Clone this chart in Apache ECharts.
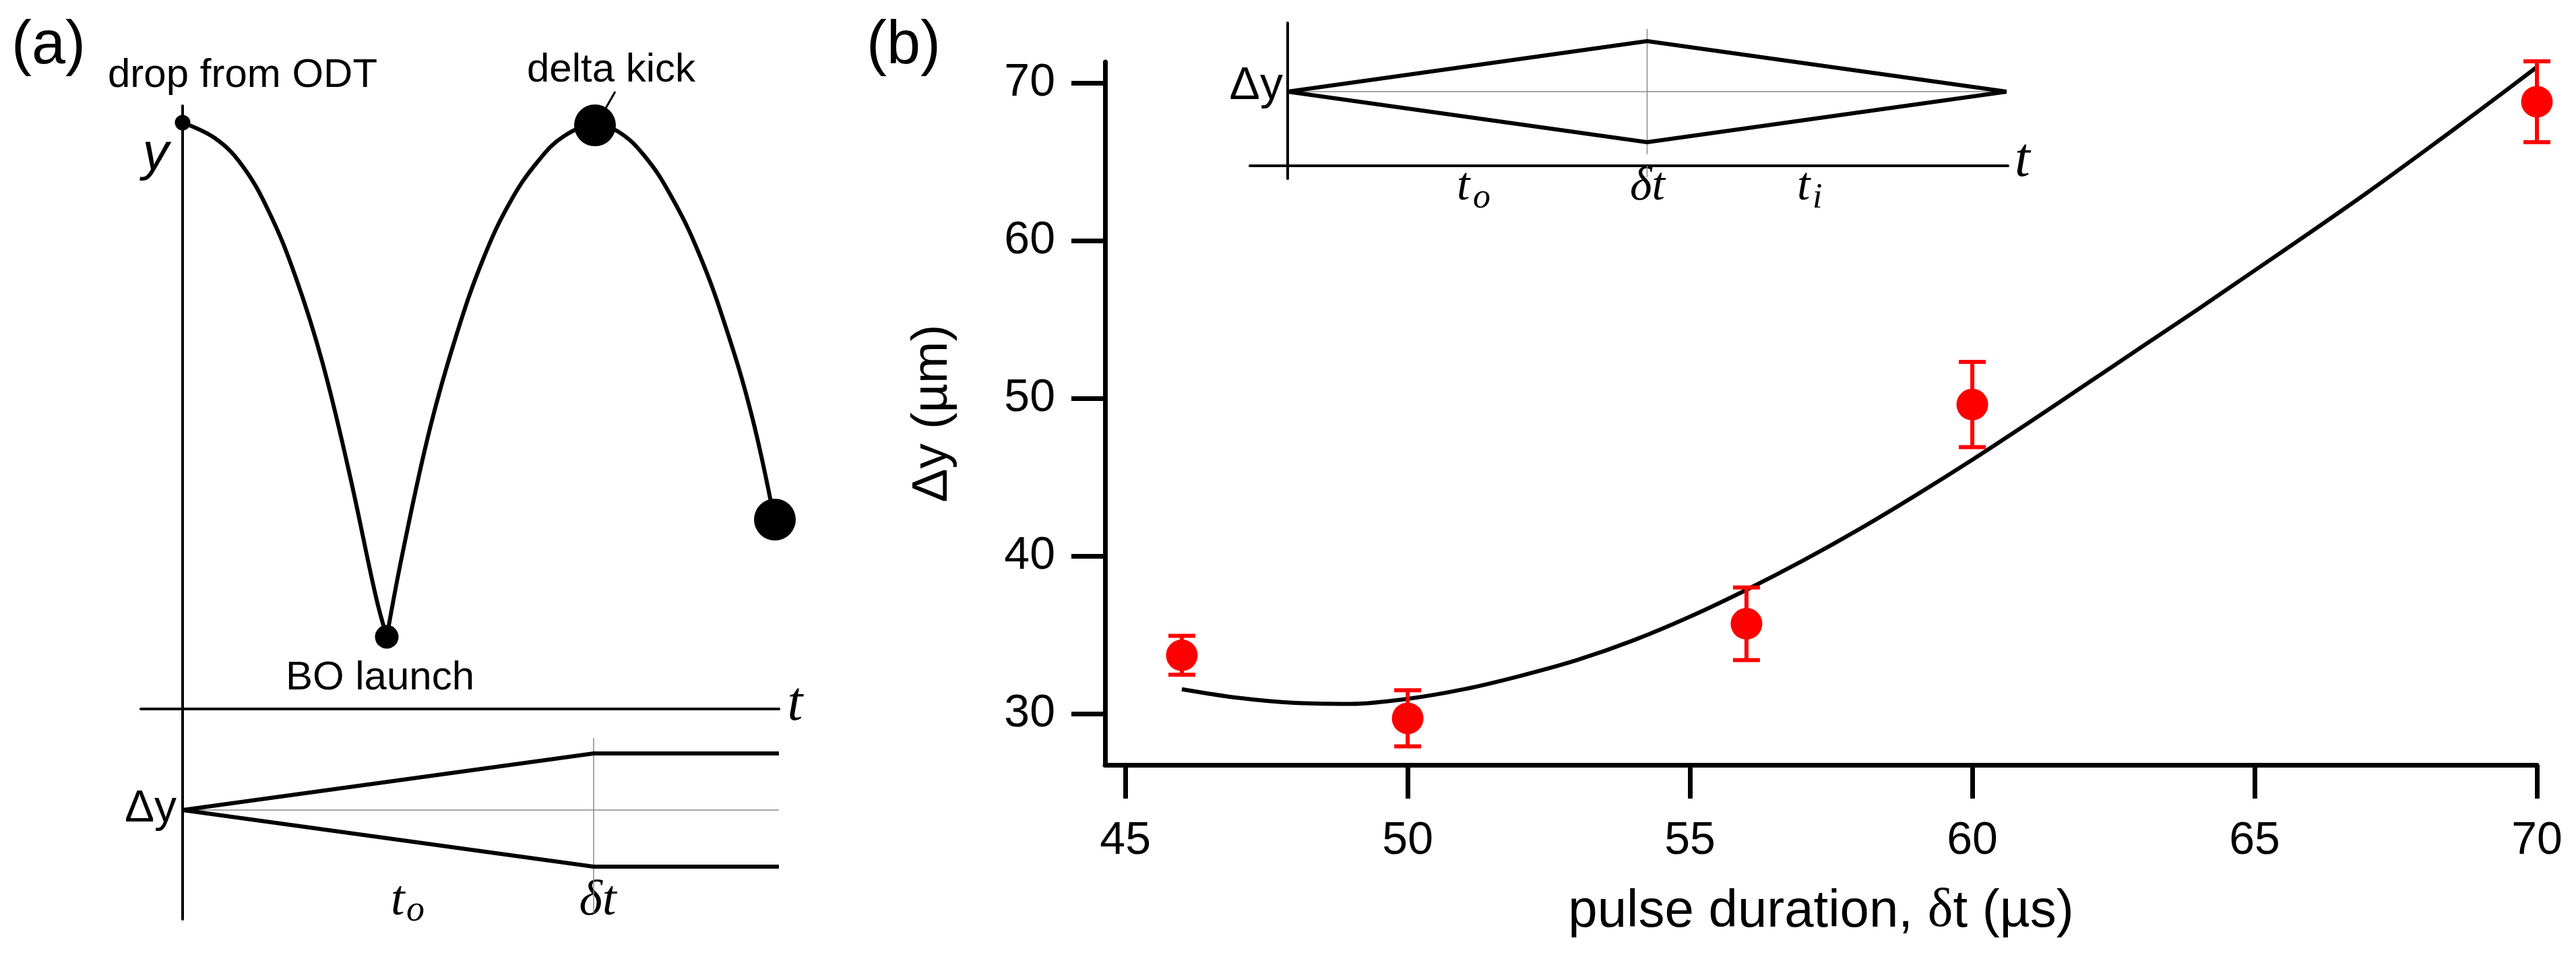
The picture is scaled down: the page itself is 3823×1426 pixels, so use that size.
<!DOCTYPE html>
<html>
<head>
<meta charset="utf-8">
<script src="https://cdn.jsdelivr.net/npm/echarts@6/dist/echarts.min.js"></script>
<style>
html, body { margin: 0; padding: 0; background: #fff; }
#main { width: 3823px; height: 1426px; }
</style>
</head>
<body>
<div id="main"></div>
<script>
// ---- (b) measured widths vs pulse duration ----
var pulse = [46, 50, 56, 60, 70]
var dy = [33.7, 29.7, 35.7, 49.6, 68.8]
var dyErr = [1.23, 1.78, 2.3, 2.7, 2.56]

// ---- (b) model curve ----
var fitT = [46, 47, 48, 49, 50, 51, 52, 53, 54, 55, 56, 57, 58, 59, 60, 61, 62, 63, 64, 65, 66, 67, 68, 69, 70]
var fitY = [31.55, 31.0, 30.68, 30.62, 30.94, 31.55, 32.4, 33.4, 34.65, 36.15, 37.85, 39.7, 41.7, 43.85, 46.1, 48.45, 50.85, 53.25, 55.65, 58.1, 60.55, 63.05, 65.65, 68.3, 71.0]

var xTicks = [45, 50, 55, 60, 65, 70]
var yTicks = [30, 40, 50, 60, 70]

// ---- (a) trajectory sketch (arbitrary units) ----
var dropT = [0, 0.48, 0.88, 1.28, 1.67, 2.07, 2.47, 2.87, 3.03]
var dropY = [8.70, 8.47, 8.07, 7.38, 6.43, 5.16, 3.52, 1.66, 1.07]
var riseT = [3.03, 3.27, 3.67, 4.07, 4.47, 4.86, 5.26, 5.66, 6.12, 6.46, 6.86, 7.25, 7.65, 8.05, 8.45, 8.78]
var riseY = [1.07, 2.34, 4.16, 5.57, 6.70, 7.52, 8.11, 8.50, 8.66, 8.57, 8.20, 7.61, 6.79, 5.70, 4.34, 2.82]
var dotT = [0, 3.03, 6.12, 8.79]
var dotY = [8.70, 1.07, 8.66, 2.81]
var dotSize = [23, 35, 62, 62]
var kickT = [6.26, 6.42]
var kickY = [8.88, 9.16]

// ---- (a) lower width sketch ----
var wA_T = [0, 6.10, 8.85]
var wA_up = [-1.5, -0.66, -0.66]
var wA_lo = [-1.5, -2.34, -2.34]
var wA_mid = -1.5
var wA_cut = [-0.43, -3.03]

// ---- (b) inset sketch ----
var wB_T = [0, 5.34, 10.68]
var wB_up = [1.10, 1.85, 1.10]
var wB_lo = [1.10, 0.35, 1.10]
var wB_mid = 1.10
var wB_cut = [2.03, 0.17]
var wB_tick = [0, -0.17]

function pairs(xs, ys) {
  var out = []
  for (var i = 0; i < xs.length; i++) out.push([xs[i], ys[i]])
  return out
}

var SANS = '"Liberation Sans", Arial, sans-serif'
var SERIF = '"Liberation Serif", "Times New Roman", serif'
var BLACK = '#000'
var GREY = '#8a8a8a'

function txt(text, x, y, font, align) {
  return {
    type: 'text', x: x, y: y, silent: true,
    style: { text: text, font: font, fill: BLACK, align: align || 'center', verticalAlign: 'middle',
      textAlign: align || 'center', textVerticalAlign: 'middle' }
  }
}

function sketchLine(xi, yi, data, color, width, clip) {
  return {
    type: 'line', xAxisIndex: xi, yAxisIndex: yi, data: data, symbol: 'none',
    lineStyle: { color: color, width: width }, silent: true, clip: clip !== false, z: 3
  }
}

var errData = []
for (var i = 0; i < pulse.length; i++) {
  errData.push([pulse[i], dy[i] - dyErr[i], dy[i] + dyErr[i]])
}

var hiddenAxis = function (grid, min, max, lw) {
  return {
    type: 'value', gridIndex: grid, min: min, max: max,
    axisLine: { show: true, onZero: true, lineStyle: { color: BLACK, width: lw } },
    axisTick: { show: false }, axisLabel: { show: false }, splitLine: { show: false }
  }
}

var myChart = echarts.init(document.getElementById('main'))
var option = {
  animation: false,
  backgroundColor: '#fff',
  grid: [
    { left: 209, top: 157, width: 947, height: 1207 },
    { left: 1640, top: 92, width: 2125, height: 1043 },
    { left: 1855, top: 34, width: 1125, height: 231 }
  ],
  xAxis: [
    hiddenAxis(0, -0.62, 8.85, 4),
    {
      type: 'value', gridIndex: 1, min: 44.64, max: 70,
      axisLine: { onZero: false, lineStyle: { color: BLACK, width: 7 } },
      axisTick: { customValues: xTicks, length: 50, lineStyle: { color: BLACK, width: 7 } },
      axisLabel: { customValues: xTicks, margin: 79, fontSize: 68, fontFamily: SANS, color: BLACK },
      splitLine: { show: false },
      name: '{a|pulse duration, }{d|δ}{a|t (µs)}',
      nameLocation: 'middle', nameGap: 178,
      nameTextStyle: {
        rich: {
          a: { fontSize: 78, fontFamily: SANS, color: BLACK },
          d: { fontSize: 80, fontFamily: SERIF, color: BLACK }
        }
      }
    },
    hiddenAxis(2, -0.56, 10.7, 4)
  ],
  yAxis: [
    hiddenAxis(0, -3.12, 8.95, 4),
    {
      type: 'value', gridIndex: 1, min: 26.75, max: 71.32,
      axisLine: { onZero: false, lineStyle: { color: BLACK, width: 7 } },
      axisTick: { customValues: yTicks, length: 50, lineStyle: { color: BLACK, width: 7 } },
      axisLabel: { customValues: yTicks, margin: 74, fontSize: 68, fontFamily: SANS, color: BLACK },
      splitLine: { show: false },
      name: 'Δy (µm)', nameLocation: 'middle', nameGap: 218,
      nameTextStyle: { fontSize: 75, fontFamily: SANS, color: BLACK }
    },
    hiddenAxis(2, -0.19, 2.12, 4)
  ],
  graphic: [
    txt('(a)', 72, 69, '90px ' + SANS),
    txt('(b)', 1341, 69, '90px ' + SANS),
    txt('drop from ODT', 160, 112, '60px ' + SANS, 'left'),
    txt('delta kick', 907, 104, '60px ' + SANS),
    txt('BO launch', 564, 1006, '60px ' + SANS),
    txt('y', 231, 230, 'italic 78px ' + SANS),
    txt('t', 1180, 1046, 'italic 82px ' + SERIF),
    txt('Δy', 262, 1201, '66px ' + SANS, 'right'),
    txt('t', 580, 1338, 'italic 74px ' + SERIF, 'left'),
    txt('o', 603, 1352, 'italic 54px ' + SERIF, 'left'),
    txt('δt', 887, 1338, 'italic 74px ' + SERIF),
    txt('Δy', 1904, 128, '68px ' + SANS, 'right'),
    txt('t', 2162, 278, 'italic 70px ' + SERIF, 'left'),
    txt('o', 2186, 294, 'italic 52px ' + SERIF, 'left'),
    txt('δt', 2445, 278, 'italic 70px ' + SERIF),
    txt('t', 2667, 278, 'italic 70px ' + SERIF, 'left'),
    txt('i', 2690, 294, 'italic 52px ' + SERIF, 'left'),
    txt('t', 2990, 239, 'italic 82px ' + SERIF, 'left')
  ],
  series: [
    // (a) grey guides
    sketchLine(0, 0, [[wA_T[0], wA_mid], [wA_T[2], wA_mid]], GREY, 1.5),
    sketchLine(0, 0, [[wA_T[1], wA_cut[0]], [wA_T[1], wA_cut[1]]], GREY, 1.5),
    // (a) trajectory
    Object.assign(sketchLine(0, 0, pairs(dropT, dropY), BLACK, 6), { smooth: 0.4 }),
    Object.assign(sketchLine(0, 0, pairs(riseT, riseY), BLACK, 6), { smooth: 0.4 }),
    sketchLine(0, 0, pairs(kickT, kickY), BLACK, 3, false),
    {
      type: 'scatter', xAxisIndex: 0, yAxisIndex: 0, z: 5,
      data: pairs(dotT, dotY).map(function (p, k) { return { value: p, symbolSize: dotSize[k] } }),
      itemStyle: { color: BLACK, opacity: 1 }
    },
    // (a) width wedge
    sketchLine(0, 0, pairs(wA_T, wA_up), BLACK, 6),
    sketchLine(0, 0, pairs(wA_T, wA_lo), BLACK, 6),

    // (b) inset
    sketchLine(2, 2, [[wB_T[0], wB_mid], [wB_T[2], wB_mid]], GREY, 1.5),
    sketchLine(2, 2, [[wB_T[1], wB_cut[0]], [wB_T[1], wB_cut[1]]], GREY, 1.5),
    sketchLine(2, 2, [[wB_T[1], wB_tick[0]], [wB_T[1], wB_tick[1]]], GREY, 1.5),
    sketchLine(2, 2, pairs(wB_T, wB_up), BLACK, 6),
    sketchLine(2, 2, pairs(wB_T, wB_lo), BLACK, 6),

    // (b) data
    {
      type: 'line', xAxisIndex: 1, yAxisIndex: 1, data: pairs(fitT, fitY),
      smooth: 0.3,
      symbol: 'none', lineStyle: { color: BLACK, width: 6 }, z: 3
    },
    {
      type: 'custom', xAxisIndex: 1, yAxisIndex: 1, data: errData, z: 4,
      encode: { x: 0, y: [1, 2] },
      renderItem: function (params, api) {
        var x = api.value(0)
        var lo = api.coord([x, api.value(1)])
        var hi = api.coord([x, api.value(2)])
        var w = 20
        var st = { stroke: '#f00', lineWidth: 6 }
        return {
          type: 'group', children: [
            { type: 'line', shape: { x1: lo[0], y1: lo[1], x2: hi[0], y2: hi[1] }, style: st },
            { type: 'line', shape: { x1: lo[0] - w, y1: lo[1], x2: lo[0] + w, y2: lo[1] }, style: st },
            { type: 'line', shape: { x1: hi[0] - w, y1: hi[1], x2: hi[0] + w, y2: hi[1] }, style: st }
          ]
        }
      }
    },
    {
      type: 'scatter', xAxisIndex: 1, yAxisIndex: 1, data: pairs(pulse, dy), z: 5,
      symbolSize: 47, itemStyle: { color: '#f00', opacity: 1 }
    }
  ]
}
myChart.setOption(option)
</script>
</body>
</html>
